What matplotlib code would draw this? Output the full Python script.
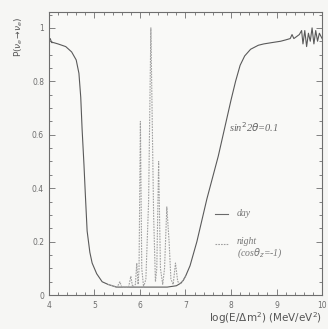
import matplotlib
matplotlib.use('Agg')
import matplotlib.pyplot as plt
from matplotlib.ticker import MultipleLocator
import numpy as np

# day curve
day_x = [4.0, 4.03, 4.06, 4.1, 4.2, 4.37, 4.5, 4.6, 4.66, 4.7, 4.73, 4.77, 4.8,
         4.84, 4.9, 4.95, 5.05, 5.17, 5.3, 5.48, 5.8, 6.2, 6.6, 6.8, 6.9, 6.95,
         7.0, 7.1, 7.25, 7.47, 7.72, 7.88, 8.0, 8.1, 8.2, 8.3, 8.43, 8.6, 8.72,
         8.9, 9.09, 9.2, 9.3, 9.34, 9.38, 9.46, 9.5, 9.55, 9.58, 9.62, 9.66, 9.7,
         9.74, 9.78, 9.82, 9.86, 9.9, 9.94, 10.0]
day_y = [0.95, 0.96, 0.945, 0.945, 0.94, 0.93, 0.91, 0.88, 0.83, 0.74, 0.62, 0.49, 0.38,
         0.24, 0.16, 0.12, 0.08, 0.05, 0.04, 0.03, 0.03, 0.03, 0.03, 0.035, 0.045, 0.055,
         0.07, 0.11, 0.2, 0.36, 0.52, 0.64, 0.73, 0.8, 0.86, 0.895, 0.92, 0.935, 0.94,
         0.945, 0.95, 0.955, 0.96, 0.975, 0.96, 0.97, 0.975, 0.99, 0.94, 0.99, 0.93, 0.98,
         0.95, 1.0, 0.94, 0.99, 0.95, 0.98, 0.96]

# night curve (cos theta_z = -1), only where it leaves the day curve
night_x = [5.3, 5.5, 5.56, 5.6, 5.64, 5.75, 5.8, 5.84, 5.9, 5.93, 5.96, 5.98, 6.01,
           6.04, 6.08, 6.13, 6.19, 6.24, 6.3, 6.34, 6.37, 6.41, 6.45, 6.5, 6.54,
           6.59, 6.64, 6.68, 6.73, 6.78, 6.83, 6.9, 7.0]
night_y = [0.04, 0.03, 0.05, 0.03, 0.03, 0.03, 0.07, 0.03, 0.04, 0.12, 0.04, 0.1, 0.65,
           0.1, 0.03, 0.06, 0.35, 1.0, 0.3, 0.05, 0.1, 0.5, 0.1, 0.04, 0.1,
           0.33, 0.2, 0.06, 0.04, 0.12, 0.05, 0.045, 0.07]

xticks = [4, 5, 6, 7, 8, 9, 10]
yticks = [0, 0.2, 0.4, 0.6, 0.8, 1]
yticklabels = ['0', '0.2', '0.4', '0.6', '0.8', '1']

grey = '#6e6e6e'
fig = plt.figure(figsize=(3.28, 3.29), dpi=100, facecolor='#f6f6f4')
ax = fig.add_axes([0.149, 0.103, 0.833, 0.861])
ax.set_facecolor('#f9f9f7')

ax.plot(day_x, day_y, color='#5a5a5a', lw=0.8)
ax.plot(night_x, night_y, color='#a0a0a0', lw=0.8, linestyle=(0, (1.5, 1)))

ax.set_xlim(4, 10)
ax.set_ylim(0, 1.06)
ax.set_xticks(xticks)
ax.set_xticklabels([str(t) for t in xticks])
ax.set_yticks(yticks)
ax.set_yticklabels(yticklabels)
ax.xaxis.set_minor_locator(MultipleLocator(0.2))
ax.yaxis.set_minor_locator(MultipleLocator(0.05))
ax.tick_params(which='both', direction='in', top=True, right=True, colors=grey,
               labelsize=5.5, width=0.6)
ax.tick_params(which='major', length=4)
ax.tick_params(which='minor', length=2)
ax.tick_params(axis='x', pad=4)
for s in ax.spines.values():
    s.set_color(grey)
    s.set_linewidth(0.8)

ax.text(-0.11, 0.91, r'P($\nu_e\!\rightarrow\!\nu_e$)', transform=ax.transAxes,
        rotation=90, ha='center', va='center', fontsize=6.5, color='#555555')
fig.text(0.982, 0.033, r'log(E/$\Delta$m$^2$) (MeV/eV$^2$)', ha='right', va='center',
         fontsize=7.5, color='#555555')

ax.text(7.95, 0.63, r'sin$^2$2$\theta$=0.1', fontsize=7.5, style='italic',
        family='Liberation Serif', color='#666666', va='center')

# legend drawn by hand
ax.plot([7.64, 7.93], [0.305, 0.305], color='#6a6a6a', lw=0.8)
ax.text(8.13, 0.305, 'day', fontsize=7, style='italic', family='Liberation Serif',
        color='#777777', va='center')
ax.plot([7.64, 7.93], [0.19, 0.19], color='#a0a0a0', lw=0.8, linestyle=(0, (1.5, 1)))
ax.text(8.13, 0.2, 'night', fontsize=7, style='italic', family='Liberation Serif',
        color='#777777', va='center')
ax.text(8.13, 0.155, r'(cos$\theta_z$=-1)', fontsize=7, style='italic',
        family='Liberation Serif', color='#777777', va='center')

plt.savefig('out.png', dpi=100, facecolor=fig.get_facecolor())
